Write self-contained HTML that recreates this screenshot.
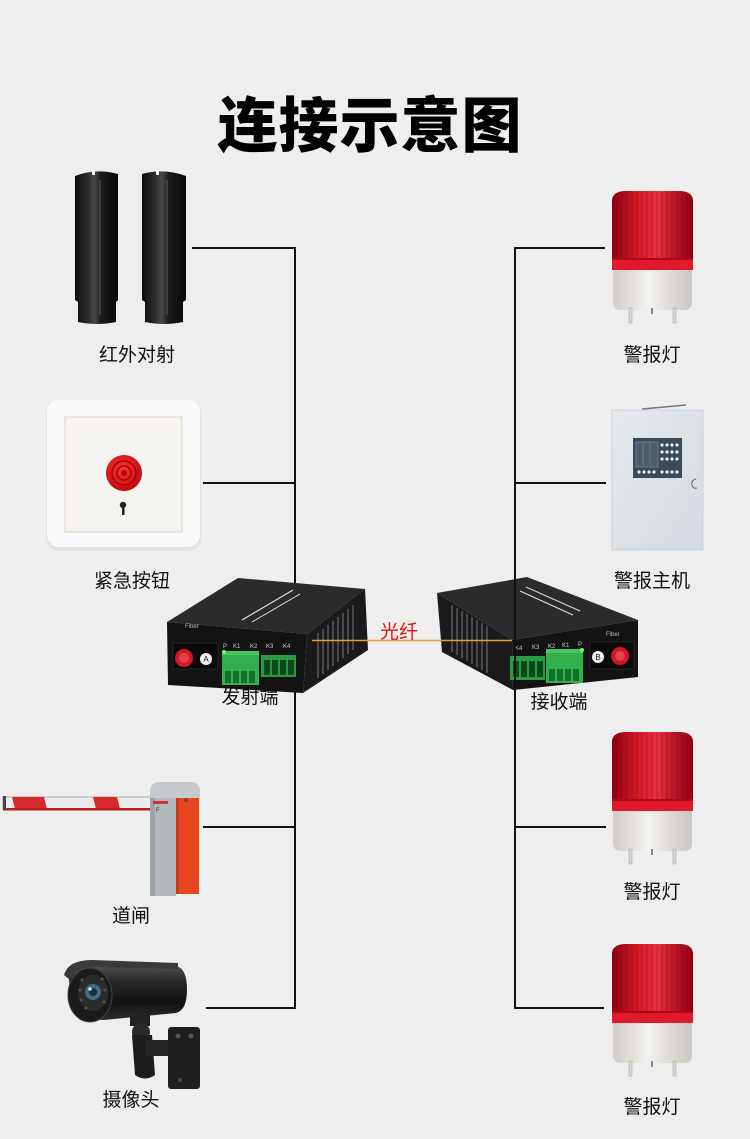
<!DOCTYPE html>
<html><head><meta charset="utf-8">
<style>
html,body{margin:0;padding:0;background:#eeeeee;}
svg{display:block;}
text{font-family:"Liberation Sans","Noto Sans CJK SC",sans-serif;}
.lbl{font-size:19px;fill:#111;text-anchor:middle;font-family:"Liberation Sans","Noto Sans CJK SC",sans-serif;}
</style></head>
<body>
<svg width="750" height="1139" viewBox="0 0 750 1139" xmlns="http://www.w3.org/2000/svg">
<defs>
  <linearGradient id="red" x1="0" x2="1" y1="0" y2="0">
    <stop offset="0" stop-color="#8a0010"/>
    <stop offset="0.3" stop-color="#d41828"/>
    <stop offset="0.55" stop-color="#e8303e"/>
    <stop offset="1" stop-color="#900012"/>
  </linearGradient>
  <linearGradient id="base" x1="0" x2="1" y1="0" y2="0">
    <stop offset="0" stop-color="#cfccc6"/>
    <stop offset="0.45" stop-color="#f3f1ed"/>
    <stop offset="1" stop-color="#c9c6c0"/>
  </linearGradient>
  <linearGradient id="post" x1="0" x2="1" y1="0" y2="0">
    <stop offset="0" stop-color="#0c0c0c"/>
    <stop offset="0.3" stop-color="#2c2c2c"/>
    <stop offset="0.45" stop-color="#4a4a4a"/>
    <stop offset="0.6" stop-color="#1c1c1c"/>
    <stop offset="1" stop-color="#080808"/>
  </linearGradient>
  <linearGradient id="host" x1="0" x2="1" y1="0" y2="1">
    <stop offset="0" stop-color="#e6eaee"/>
    <stop offset="1" stop-color="#d3d9de"/>
  </linearGradient>
  <linearGradient id="cam" x1="0" x2="0" y1="0" y2="1">
    <stop offset="0" stop-color="#5a5a5a"/>
    <stop offset="0.35" stop-color="#262626"/>
    <stop offset="0.7" stop-color="#121212"/>
    <stop offset="1" stop-color="#2e2e2e"/>
  </linearGradient>
  <radialGradient id="btn" cx="0.45" cy="0.4" r="0.6">
    <stop offset="0" stop-color="#ff3b30"/>
    <stop offset="1" stop-color="#c00810"/>
  </radialGradient>
  <g id="lamp">
    <path d="M612,201 Q612,192 624,191 L681,191 Q693,192 693,201 L693,270 L612,270 Z" fill="url(#red)"/>
    <g stroke="#7a0010" stroke-opacity="0.35" stroke-width="1">
      <line x1="617" y1="195" x2="617" y2="258"/><line x1="622" y1="193" x2="622" y2="258"/>
      <line x1="627" y1="192" x2="627" y2="258"/><line x1="632" y1="192" x2="632" y2="258"/>
      <line x1="637" y1="192" x2="637" y2="258"/><line x1="642" y1="192" x2="642" y2="258"/>
      <line x1="647" y1="192" x2="647" y2="258"/><line x1="652" y1="192" x2="652" y2="258"/>
      <line x1="657" y1="192" x2="657" y2="258"/><line x1="662" y1="192" x2="662" y2="258"/>
      <line x1="667" y1="192" x2="667" y2="258"/><line x1="672" y1="192" x2="672" y2="258"/>
      <line x1="677" y1="192" x2="677" y2="258"/><line x1="682" y1="193" x2="682" y2="258"/>
      <line x1="687" y1="195" x2="687" y2="258"/>
    </g>
    <rect x="612" y="258" width="81" height="12" fill="#e01a2c"/>
    <rect x="612" y="258" width="81" height="2" fill="#b00818"/>
    <path d="M613,270 L692,270 L692,302 Q692,310 684,310 L621,310 Q613,310 613,302 Z" fill="url(#base)"/>
    <rect x="629" y="308" width="3" height="15" fill="#d8d8d8" stroke="#999" stroke-width="0.5"/>
    <rect x="673" y="308" width="3" height="15" fill="#d8d8d8" stroke="#999" stroke-width="0.5"/>
    <rect x="651" y="308" width="2" height="6" fill="#888"/>
  </g>
</defs>

<rect width="750" height="1139" fill="#eeeeee"/>

<!-- title -->
<text x="370" y="147" font-size="60" font-weight="900" text-anchor="middle" letter-spacing="1" fill="#000" style="font-family:'Noto Sans CJK SC','WenQuanYi Zen Hei',sans-serif;font-weight:900">连接示意图</text>

<!-- left connectors -->
<g stroke="#111" stroke-width="2" fill="none">
  <line x1="295" y1="247" x2="295" y2="1009"/>
  <line x1="192" y1="248" x2="296" y2="248"/>
  <line x1="203" y1="483" x2="296" y2="483"/>
  <line x1="203" y1="827" x2="296" y2="827"/>
  <line x1="206" y1="1008" x2="296" y2="1008"/>
</g>
<g stroke="#111" stroke-width="2" fill="none">
  <line x1="514" y1="248" x2="605" y2="248"/>
  <line x1="514" y1="483" x2="606" y2="483"/>
  <line x1="514" y1="827" x2="606" y2="827"/>
  <line x1="514" y1="1008" x2="604" y2="1008"/>
</g>

<!-- IR beams -->
<path d="M75,176 Q96,168 118,174 L118,300 L116,302 L116,322 Q97,326 78,322 L78,302 L75,300 Z" fill="url(#post)"/>
<path d="M142,174 Q164,168 186,176 L186,300 L183,302 L183,322 Q164,326 145,322 L145,302 L142,300 Z" fill="url(#post)"/>
<line x1="100" y1="180" x2="100" y2="315" stroke="#5a5a5a" stroke-width="1"/>
<line x1="167" y1="180" x2="167" y2="315" stroke="#5a5a5a" stroke-width="1"/>
<rect x="92" y="171" width="3" height="4" fill="#eee"/>
<rect x="156" y="171" width="3" height="4" fill="#eee"/>

<!-- emergency button -->
<rect x="46" y="401" width="155" height="150" rx="13" fill="#e2e2e2"/>
<rect x="47" y="400" width="153" height="147" rx="12" fill="#fafafa"/>
<rect x="65" y="417" width="117" height="115" fill="#f5f4f1" stroke="#d9d2c2" stroke-width="1"/>
<circle cx="124" cy="473" r="18" fill="url(#btn)"/>
<circle cx="124" cy="473" r="12" fill="none" stroke="#a80010" stroke-width="1.5"/>
<circle cx="124" cy="473" r="7" fill="none" stroke="#a80010" stroke-width="1.5"/>
<circle cx="124" cy="473" r="3" fill="#b00010"/>
<circle cx="123" cy="505" r="3.2" fill="#222"/>
<rect x="122" y="506" width="2.5" height="9" fill="#222"/>

<!-- alarm host -->
<line x1="642" y1="409" x2="686" y2="405" stroke="#777" stroke-width="1.5"/>
<rect x="612" y="410" width="91" height="140" fill="url(#host)" stroke="#c5ccd2" stroke-width="0.8"/>
<rect x="633" y="438" width="49" height="40" fill="#3c4a58"/>
<rect x="636" y="442" width="22" height="25" fill="#4c5c6c" stroke="#8898a8" stroke-width="0.6"/>
<line x1="643" y1="443" x2="643" y2="466" stroke="#8898a8" stroke-width="0.5"/>
<line x1="650" y1="443" x2="650" y2="466" stroke="#8898a8" stroke-width="0.5"/>
<g fill="#e8eef4">
  <circle cx="662" cy="445" r="1.6"/><circle cx="667" cy="445" r="1.6"/><circle cx="672" cy="445" r="1.6"/><circle cx="677" cy="445" r="1.6"/>
  <circle cx="662" cy="452" r="1.6"/><circle cx="667" cy="452" r="1.6"/><circle cx="672" cy="452" r="1.6"/><circle cx="677" cy="452" r="1.6"/>
  <circle cx="662" cy="459" r="1.6"/><circle cx="667" cy="459" r="1.6"/><circle cx="672" cy="459" r="1.6"/><circle cx="677" cy="459" r="1.6"/>
  <circle cx="662" cy="472" r="1.6"/><circle cx="667" cy="472" r="1.6"/><circle cx="672" cy="472" r="1.6"/><circle cx="677" cy="472" r="1.6"/>
  <circle cx="639" cy="472" r="1.6"/><circle cx="644" cy="472" r="1.6"/><circle cx="649" cy="472" r="1.6"/><circle cx="654" cy="472" r="1.6"/>
</g>
<path d="M696,479 Q691,480 692,485 Q693,489 697,488" fill="none" stroke="#666" stroke-width="1"/>

<!-- lamps -->
<use href="#lamp"/>
<use href="#lamp" transform="translate(0,541)"/>
<use href="#lamp" transform="translate(0,753)"/>

<!-- barrier gate -->
<rect x="3" y="797" width="148" height="12" fill="#ececec" stroke="#9a9a9a" stroke-width="0.8"/>
<polygon points="12,797 44,797 47,809 15,809" fill="#d82a2a"/>
<polygon points="93,797 117,797 120,809 96,809" fill="#d82a2a"/>
<rect x="3" y="808" width="148" height="2.5" fill="#b82020"/>
<rect x="3" y="796" width="3" height="14" fill="#444"/>
<path d="M150,792 Q150,782 160,782 L190,782 Q200,782 200,792 L200,800 L150,800 Z" fill="#c6c9cd"/>
<rect x="150" y="798" width="26" height="98" fill="#b5b9bd"/>
<rect x="150" y="798" width="5" height="98" fill="#9ea2a6"/>
<rect x="176" y="798" width="23" height="96" fill="#e8461e"/>
<rect x="176" y="798" width="3" height="96" fill="#c93a16"/>
<circle cx="186" cy="800" r="2" fill="#555"/>
<rect x="153" y="801" width="15" height="3" fill="#c33"/>
<text x="156" y="812" font-size="6" fill="#333">F</text>

<!-- camera -->
<path d="M68,972 Q70,962 90,962 L176,966 Q187,968 187,990 Q187,1010 176,1013 L104,1020 Q80,1020 72,1005 Z" fill="url(#cam)"/>
<path d="M64,975 Q68,960 92,960 L178,963 L178,969 L92,967 Q74,968 70,980 Z" fill="#3a3a3a"/>
<ellipse cx="90" cy="995" rx="22" ry="27" fill="#1a1a1a" stroke="#444" stroke-width="1"/>
<ellipse cx="93" cy="993" rx="15" ry="18" fill="#2c2c2c"/>
<g fill="#555"><circle cx="82" cy="980" r="1.5"/><circle cx="80" cy="990" r="1.5"/><circle cx="81" cy="1000" r="1.5"/><circle cx="86" cy="1008" r="1.5"/><circle cx="102" cy="979" r="1.5"/><circle cx="105" cy="990" r="1.5"/><circle cx="104" cy="1002" r="1.5"/></g>
<circle cx="93" cy="992" r="8" fill="#3f6f86"/>
<circle cx="93" cy="992" r="4" fill="#1a2f3a"/>
<circle cx="90" cy="989" r="1.8" fill="#cfe6f0"/>
<rect x="130" y="1012" width="20" height="14" fill="#222"/>
<circle cx="141" cy="1032" r="9" fill="#2a2a2a"/>
<path d="M132,1035 L152,1035 L155,1075 Q145,1082 135,1075 Z" fill="#1c1c1c"/>
<rect x="145" y="1040" width="28" height="16" fill="#262626"/>
<rect x="168" y="1027" width="32" height="62" rx="3" fill="#1e1e1e"/>
<circle cx="178" cy="1036" r="2.5" fill="#555"/>
<circle cx="191" cy="1036" r="2.5" fill="#555"/>
<circle cx="180" cy="1080" r="2" fill="#444"/>

<!-- transmitter box -->
<polygon points="167,622 238,578 365,589 307,634" fill="#2b2b2b"/>
<polygon points="307,634 365,589 368,650 303,693" fill="#1a1a1a"/>
<polygon points="167,622 307,634 303,693 168,685" fill="#131313"/>
<g stroke="#4a4a4a" stroke-width="2">
  <line x1="318" y1="633" x2="318" y2="678"/><line x1="323" y1="629" x2="323" y2="674"/>
  <line x1="328" y1="625" x2="328" y2="670"/><line x1="333" y1="621" x2="333" y2="666"/>
  <line x1="338" y1="617" x2="338" y2="662"/><line x1="343" y1="613" x2="343" y2="658"/>
  <line x1="348" y1="609" x2="348" y2="654"/><line x1="353" y1="605" x2="353" y2="650"/>
</g>
<line x1="242" y1="620" x2="293" y2="590" stroke="#ddd" stroke-width="1.2"/>
<line x1="252" y1="622" x2="300" y2="594" stroke="#ddd" stroke-width="1"/>
<text x="185" y="628" font-size="6" fill="#bbb">Fiber</text>
<rect x="173" y="643" width="45" height="26" fill="#0a0a0a" stroke="#2a2a2a" stroke-width="0.8"/>
<circle cx="184" cy="658" r="9" fill="#d01828"/>
<circle cx="184" cy="658" r="5" fill="#e8404a"/>
<circle cx="206" cy="659" r="6" fill="#f2f2f2"/>
<text x="206" y="662" font-size="8" text-anchor="middle" fill="#111">A</text>
<g font-size="6" fill="#ccc"><text x="223" y="648">P</text><text x="233" y="648">K1</text><text x="250" y="648">K2</text><text x="266" y="648">K3</text><text x="283" y="648">K4</text></g>
<rect x="222" y="651" width="37" height="34" fill="#33b04e"/>
<g fill="#14702c"><rect x="225" y="671" width="6" height="12"/><rect x="233" y="671" width="6" height="12"/><rect x="241" y="671" width="6" height="12"/><rect x="249" y="671" width="6" height="12"/></g>
<rect x="222" y="651" width="37" height="4" fill="#45c560"/>
<circle cx="224" cy="652" r="2" fill="#6f6"/>
<rect x="261" y="655" width="35" height="22" fill="#2a9a45"/>
<g fill="#0c4a1c"><rect x="264" y="660" width="6" height="15"/><rect x="272" y="660" width="6" height="15"/><rect x="280" y="660" width="6" height="15"/><rect x="288" y="660" width="6" height="15"/></g>

<!-- receiver box -->
<polygon points="437,593 527,577 638,620 512,640" fill="#2b2b2b"/>
<polygon points="437,593 512,640 513,690 442,652" fill="#1a1a1a"/>
<polygon points="512,640 638,620 638,677 513,690" fill="#131313"/>
<g stroke="#4a4a4a" stroke-width="2">
  <line x1="452" y1="605" x2="452" y2="652"/><line x1="457" y1="608" x2="457" y2="655"/>
  <line x1="462" y1="611" x2="462" y2="658"/><line x1="467" y1="614" x2="467" y2="661"/>
  <line x1="472" y1="617" x2="472" y2="664"/><line x1="477" y1="620" x2="477" y2="667"/>
  <line x1="482" y1="623" x2="482" y2="670"/><line x1="487" y1="626" x2="487" y2="673"/>
</g>
<line x1="520" y1="591" x2="573" y2="615" stroke="#ddd" stroke-width="1.2"/>
<line x1="526" y1="587" x2="580" y2="611" stroke="#ddd" stroke-width="1"/>
<text x="606" y="636" font-size="6" fill="#bbb">Fiber</text>
<rect x="590" y="642" width="44" height="27" fill="#0a0a0a" stroke="#2a2a2a" stroke-width="0.8"/>
<circle cx="598" cy="657" r="6" fill="#f2f2f2"/>
<text x="598" y="660" font-size="8" text-anchor="middle" fill="#111">B</text>
<circle cx="620" cy="656" r="9" fill="#d01828"/>
<circle cx="620" cy="656" r="5" fill="#e8404a"/>
<g font-size="6" fill="#ccc"><text x="515" y="650">K4</text><text x="532" y="649">K3</text><text x="548" y="648">K2</text><text x="562" y="647">K1</text><text x="578" y="646">P</text></g>
<rect x="510" y="656" width="35" height="24" fill="#2a9a45"/>
<g fill="#0c4a1c"><rect x="513" y="661" width="6" height="16"/><rect x="521" y="661" width="6" height="16"/><rect x="529" y="661" width="6" height="16"/><rect x="537" y="661" width="6" height="16"/></g>
<rect x="546" y="649" width="37" height="34" fill="#33b04e"/>
<rect x="546" y="649" width="37" height="4" fill="#45c560"/>
<g fill="#14702c"><rect x="549" y="669" width="6" height="12"/><rect x="557" y="669" width="6" height="12"/><rect x="565" y="669" width="6" height="12"/><rect x="573" y="669" width="6" height="12"/></g>
<circle cx="582" cy="650" r="2" fill="#6f6"/>

<!-- right vertical on top of receiver -->
<line x1="515" y1="247" x2="515" y2="1009" stroke="#111" stroke-width="2"/>

<!-- fiber -->
<line x1="312" y1="640.5" x2="512" y2="640.5" stroke="#e8a030" stroke-width="1.5"/>
<text x="399" y="638" font-size="19" text-anchor="middle" fill="#e01818" style="font-family:'Liberation Sans','Noto Sans CJK SC',sans-serif">光纤</text>

<!-- labels -->
<text class="lbl" x="137" y="361">红外对射</text>
<text class="lbl" x="132" y="587">紧急按钮</text>
<text class="lbl" x="131" y="922">道闸</text>
<text class="lbl" x="131" y="1106">摄像头</text>
<text class="lbl" x="652" y="361">警报灯</text>
<text class="lbl" x="652" y="587">警报主机</text>
<text class="lbl" x="652" y="898">警报灯</text>
<text class="lbl" x="652" y="1113">警报灯</text>
<text class="lbl" x="250" y="703">发射端</text>
<text class="lbl" x="559" y="708">接收端</text>
</svg>
</body></html>
